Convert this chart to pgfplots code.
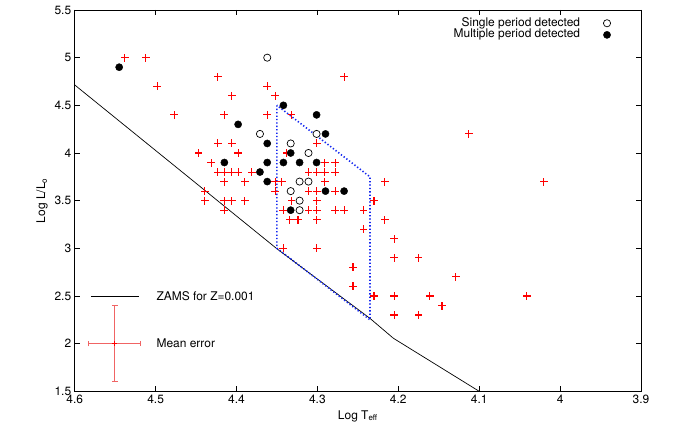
\documentclass[border=0pt]{standalone}
\usepackage{fontspec}
\setmainfont{TeX Gyre Heros}
\usepackage{pgfplots}
\pgfplotsset{compat=1.18}
\definecolor{plusred}{RGB}{255,0,0}
\definecolor{errred}{RGB}{240,100,100}
\definecolor{boxblue}{RGB}{20,40,240}
\begin{document}
\begin{tikzpicture}
\begin{axis}[
  name=ax,
  scale only axis,
  width=566.3bp, height=381.3bp,
  x dir=reverse,
  xmin=3.9, xmax=4.6, ymin=1.5, ymax=5.5,
  xtick={3.9,4.0,4.1,4.2,4.3,4.4,4.5,4.6},
  ytick={1.5,2,2.5,3,3.5,4,4.5,5,5.5},
  tick align=inside,
  major tick length=5bp,
  tick style={black, line width=0.6bp},
  axis line style={line width=0.8bp},
  /pgf/number format/assume math mode=true,
  tick label style={font=\fontsize{12}{14}\selectfont},
  label style={font=\fontsize{12}{14}\selectfont},
  xlabel={Log T\textsubscript{eff}},
  ylabel={Log L/L\textsubscript{o}},
  clip=false,
]
% ZAMS
\addplot[black, line width=0.7bp] coordinates {(4.6,4.714) (4.35,2.995) (4.235,2.265) (4.206,2.056) (4.1,1.5)};
% instability strip box
\addplot[color=boxblue, line width=1.6bp, dash pattern=on 1.3bp off 2.1bp] coordinates {(4.350,4.50) (4.350,3.0) (4.235,2.25) (4.235,3.75) (4.350,4.50)};
% all stars: plus signs drawn as symmetric bars of fixed size
\addplot[color=plusred, draw=none, mark=none,
  error bars/.cd, x dir=both, x fixed=0.0049, y dir=both, y fixed=0.042,
  error mark=none, error bar style={color=plusred, line width=1.1bp, solid}] coordinates {
(4.538,5.0) (4.512,5.0) (4.498,4.7) (4.423,4.8) (4.406,4.6) (4.362,4.7) (4.352,4.6) (4.267,4.8)
(4.477,4.4) (4.415,4.4) (4.362,4.4) (4.332,4.4)
(4.423,4.1) (4.406,4.1) (4.301,4.1)
(4.447,4.0) (4.398,4.0) (4.338,4.0)
(4.431,3.9) (4.291,3.9) (4.278,3.9)
(4.423,3.8) (4.415,3.8) (4.406,3.8) (4.398,3.8) (4.381,3.8) (4.311,3.8) (4.301,3.8) (4.291,3.8) (4.278,3.8)
(4.415,3.7) (4.390,3.7) (4.352,3.7) (4.344,3.7) (4.291,3.7) (4.217,3.7) (4.020,3.7)
(4.439,3.6) (4.352,3.6) (4.311,3.6) (4.301,3.6) (4.278,3.6)
(4.439,3.5) (4.415,3.5) (4.406,3.5) (4.390,3.5) (4.332,3.5) (4.301,3.5) (4.230,3.5)
(4.415,3.4) (4.342,3.4) (4.311,3.4) (4.301,3.4) (4.278,3.4) (4.267,3.4) (4.243,3.4)
(4.334,3.3) (4.324,3.3) (4.301,3.3) (4.217,3.3)
(4.243,3.2) (4.205,3.1)
(4.342,3.0) (4.301,3.0)
(4.205,2.9) (4.175,2.9)
(4.256,2.8) (4.129,2.7) (4.256,2.6)
(4.230,2.5) (4.205,2.5) (4.161,2.5) (4.041,2.5)
(4.146,2.4)
(4.205,2.3) (4.175,2.3)
(4.113,4.2)
};
% multiple period detected
\addplot[only marks, mark=*, mark size=3.6bp, color=black] coordinates {
(4.545,4.9) (4.342,4.5) (4.301,4.4) (4.398,4.3) (4.290,4.2) (4.362,4.1) (4.333,4.0)
(4.415,3.9) (4.362,3.9) (4.342,3.9) (4.322,3.9) (4.301,3.9)
(4.371,3.8) (4.362,3.7) (4.290,3.6) (4.267,3.6) (4.333,3.4)
(3.942,5.239)
};
% single period detected
\addplot[only marks, mark=*, mark size=3.6bp, color=black, mark options={fill=white, line width=0.7bp}] coordinates {
(4.362,5.0) (4.371,4.2) (4.301,4.2) (4.333,4.1) (4.311,4.0)
(4.322,3.7) (4.311,3.7) (4.333,3.6) (4.322,3.5) (4.322,3.4)
(3.942,5.361)
};
% legend texts
\node[anchor=east, font=\fontsize{12}{14}\selectfont, inner sep=0pt] at (axis cs:3.975,5.361) {Single period detected};
\node[anchor=east, font=\fontsize{12}{14}\selectfont, inner sep=0pt] at (axis cs:3.975,5.239) {Multiple period detected};
% ZAMS legend
\addplot[black, line width=0.7bp] coordinates {(4.58,2.5) (4.521,2.5)};
\node[anchor=west, font=\fontsize{12}{14}\selectfont, inner sep=0pt] at (axis cs:4.499,2.5) {ZAMS for Z=0.001};
% mean error
\addplot[color=errred, draw=none, mark=none,
  error bars/.cd, x dir=both, x explicit, y dir=both, y explicit,
  error bar style={color=errred, line width=1.1bp, solid},
  error mark=|, error mark options={color=errred, line width=1.1bp, mark size=2.8bp}]
  coordinates {(4.5505,2.0) +- (0.032,0.4)};
\addplot[color=plusred, draw=none, mark=none,
  error bars/.cd, x dir=both, x fixed=0.003, y dir=both, y fixed=0.025,
  error mark=none, error bar style={color=plusred, line width=1.2bp, solid}]
  coordinates {(4.5505,2.0)};
\node[anchor=west, font=\fontsize{12}{14}\selectfont, inner sep=0pt] at (axis cs:4.499,2.0) {Mean error};
\end{axis}
\path ([xshift=-74.7bp,yshift=-40.7bp]ax.south west) rectangle ([xshift=33bp,yshift=10bp]ax.north east);
\end{tikzpicture}
\end{document}
